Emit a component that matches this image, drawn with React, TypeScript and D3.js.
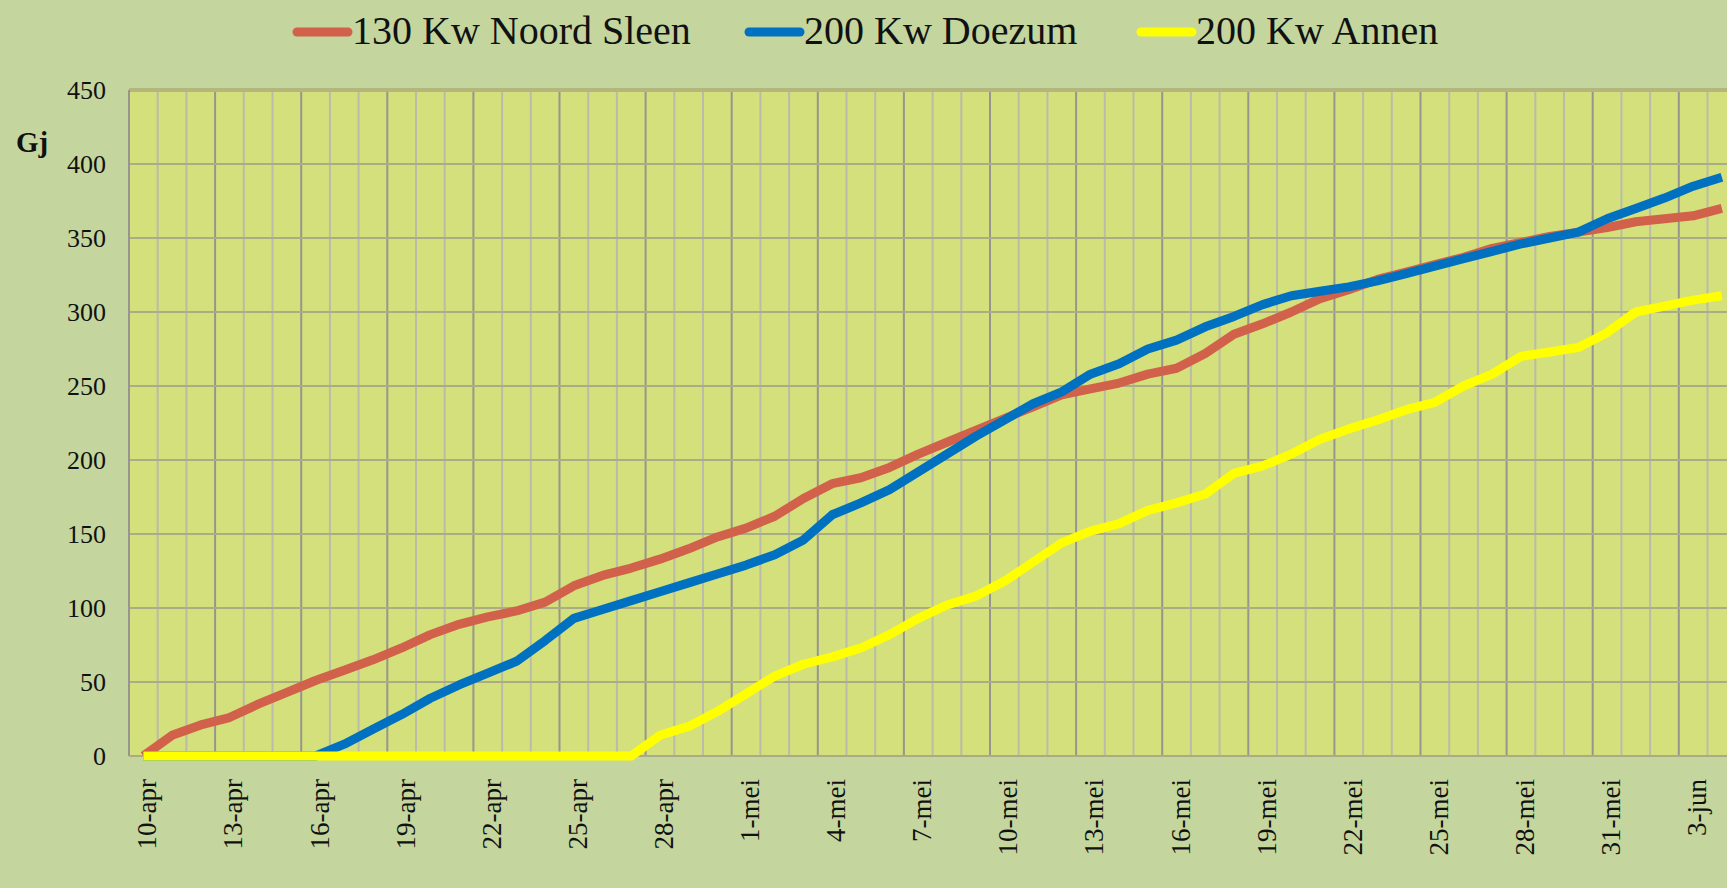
import * as d3 from 'd3';

const WIDTH = 1727;
const HEIGHT = 888;
const PLOT = { left: 129, top: 90, bottom: 756, dayWidth: 28.7 };
const FONT = '"Liberation Serif", "DejaVu Serif", serif';

// axis runs from 10 april onwards, one category per day (chart is cropped on the right)
const START = new Date(2010, 3, 10);
const DAY_COUNT = 57;
const MONTHS_NL = ['jan', 'feb', 'mrt', 'apr', 'mei', 'jun', 'jul', 'aug', 'sep', 'okt', 'nov', 'dec'];
const Y_TICKS = [0, 50, 100, 150, 200, 250, 300, 350, 400, 450];

// cumulative Gj per day
const noordSleen = [
  0, 14, 21, 26, 35, 43, 51, 58, 65, 73, 82, 89, 94, 98, 104, 115, 122, 127, 133, 140,
  148, 154, 162, 174, 184, 188, 195, 204, 212, 220, 228, 236, 244, 248, 252, 258, 262, 272, 285, 292,
  300, 309, 315, 322, 327, 332, 337, 343, 347, 351, 354, 357, 361, 363, 365, 370,
];
const doezum = [
  0, 0, 0, 0, 0, 0, 0, 8, 18, 28, 39, 48, 56, 64, 78, 93, 99, 105, 111, 117,
  123, 129, 136, 146, 163, 171, 180, 192, 204, 216, 227, 238, 246, 258, 265, 275, 281, 290, 297, 305,
  311, 314, 317, 321, 326, 331, 336, 341, 346, 350, 354, 363, 370, 377, 385, 391,
];
const annen = [
  0, 0, 0, 0, 0, 0, 0, 0, 0, 0, 0, 0, 0, 0, 0, 0, 0, 0, 14, 20,
  30, 42, 54, 62, 67, 73, 82, 93, 102, 108, 118, 131, 144, 152, 157, 166, 171, 177, 191, 196,
  204, 214, 221, 227, 234, 239, 250, 258, 270, 273, 276, 286, 300, 304, 308, 311,
];

const SERIES = [
  { name: '130 Kw Noord Sleen', color: '#d2614b', values: noordSleen, legendX: 293 },
  { name: '200 Kw Doezum', color: '#0070c0', values: doezum, legendX: 745 },
  { name: '200 Kw Annen', color: '#ffff00', values: annen, legendX: 1137 },
];

const App = () => {
  const days = d3.timeDay.range(START, d3.timeDay.offset(START, DAY_COUNT));
  const dayLabel = (d: Date) => `${d.getDate()}-${MONTHS_NL[d.getMonth()]}`;

  const xScale = d3
    .scaleBand<number>()
    .domain(d3.range(DAY_COUNT))
    .range([PLOT.left, PLOT.left + DAY_COUNT * PLOT.dayWidth])
    .paddingInner(0)
    .paddingOuter(0);
  const bw = xScale.bandwidth();
  const right = PLOT.left + DAY_COUNT * PLOT.dayWidth;

  const yScale = d3.scaleLinear().domain([0, 450]).range([PLOT.bottom, PLOT.top]);

  const line = d3
    .line<number>()
    .x((_, i) => (xScale(i) ?? 0) + bw / 2)
    .y((v) => yScale(v));

  // vertical grid: minor line every day, major every 3 days
  const vGrid = d3.range(DAY_COUNT + 1).map((i) => {
    const x = i < DAY_COUNT ? xScale(i) ?? 0 : right;
    const major = i % 3 === 0;
    return (
      <line
        key={`v${i}`}
        x1={x}
        x2={x}
        y1={PLOT.top}
        y2={PLOT.bottom}
        stroke={major ? '#969690' : '#babcaa'}
        strokeWidth={2}
      />
    );
  });

  const hGrid = Y_TICKS.map((t) => (
    <g key={`h${t}`}>
      <line
        x1={PLOT.left}
        x2={right}
        y1={yScale(t)}
        y2={yScale(t)}
        stroke={t === 450 ? '#b3b77c' : '#a9ac84'}
        strokeWidth={t === 450 ? 4 : 2}
      />
      <text
        x={106}
        y={yScale(t)}
        textAnchor="end"
        dominantBaseline="central"
        fontSize={26}
        fontFamily={FONT}
        fill="#111"
      >
        {t}
      </text>
    </g>
  ));

  const xLabels = days
    .map((d, i) => ({ d, i }))
    .filter(({ i }) => i % 3 === 0)
    .map(({ d, i }) => {
      const x = (xScale(i) ?? 0) + bw / 2 + 4;
      return (
        <text
          key={`x${i}`}
          transform={`translate(${x},779) rotate(-90)`}
          textAnchor="end"
          dominantBaseline="central"
          fontSize={27}
          fontFamily={FONT}
          fill="#111"
        >
          {dayLabel(d)}
        </text>
      );
    });

  return (
    <div style={{ position: 'absolute', left: 0, top: 0 }}>
      <svg width={WIDTH} height={HEIGHT} style={{ display: 'block' }}>
        <rect x={0} y={0} width={WIDTH} height={HEIGHT} fill="#c4d69d" />
        <rect
          x={PLOT.left}
          y={PLOT.top}
          width={right - PLOT.left}
          height={PLOT.bottom - PLOT.top}
          fill="#d3e07b"
        />
        {vGrid}
        {hGrid}
        <line x1={PLOT.left} x2={PLOT.left} y1={PLOT.top} y2={PLOT.bottom} stroke="#969690" strokeWidth={2} />
        <line x1={PLOT.left} x2={right} y1={PLOT.bottom} y2={PLOT.bottom} stroke="#a9ac84" strokeWidth={2} />

        {SERIES.map((s) => (
          <path
            key={s.name}
            d={line(s.values) ?? ''}
            fill="none"
            stroke={s.color}
            strokeWidth={9}
            strokeLinejoin="round"
          />
        ))}

        {xLabels}

        <text x={32} y={152} textAnchor="middle" fontSize={29} fontWeight="bold" fontFamily={FONT} fill="#111">
          Gj
        </text>

        {SERIES.map((s) => (
          <g key={`leg-${s.name}`}>
            <line
              x1={s.legendX + 4}
              x2={s.legendX + 55}
              y1={32}
              y2={32}
              stroke={s.color}
              strokeWidth={9}
              strokeLinecap="round"
            />
            <text x={s.legendX + 59} y={44} fontSize={40} fontFamily={FONT} fill="#111">
              {s.name}
            </text>
          </g>
        ))}
      </svg>
    </div>
  );
};

export default App;
